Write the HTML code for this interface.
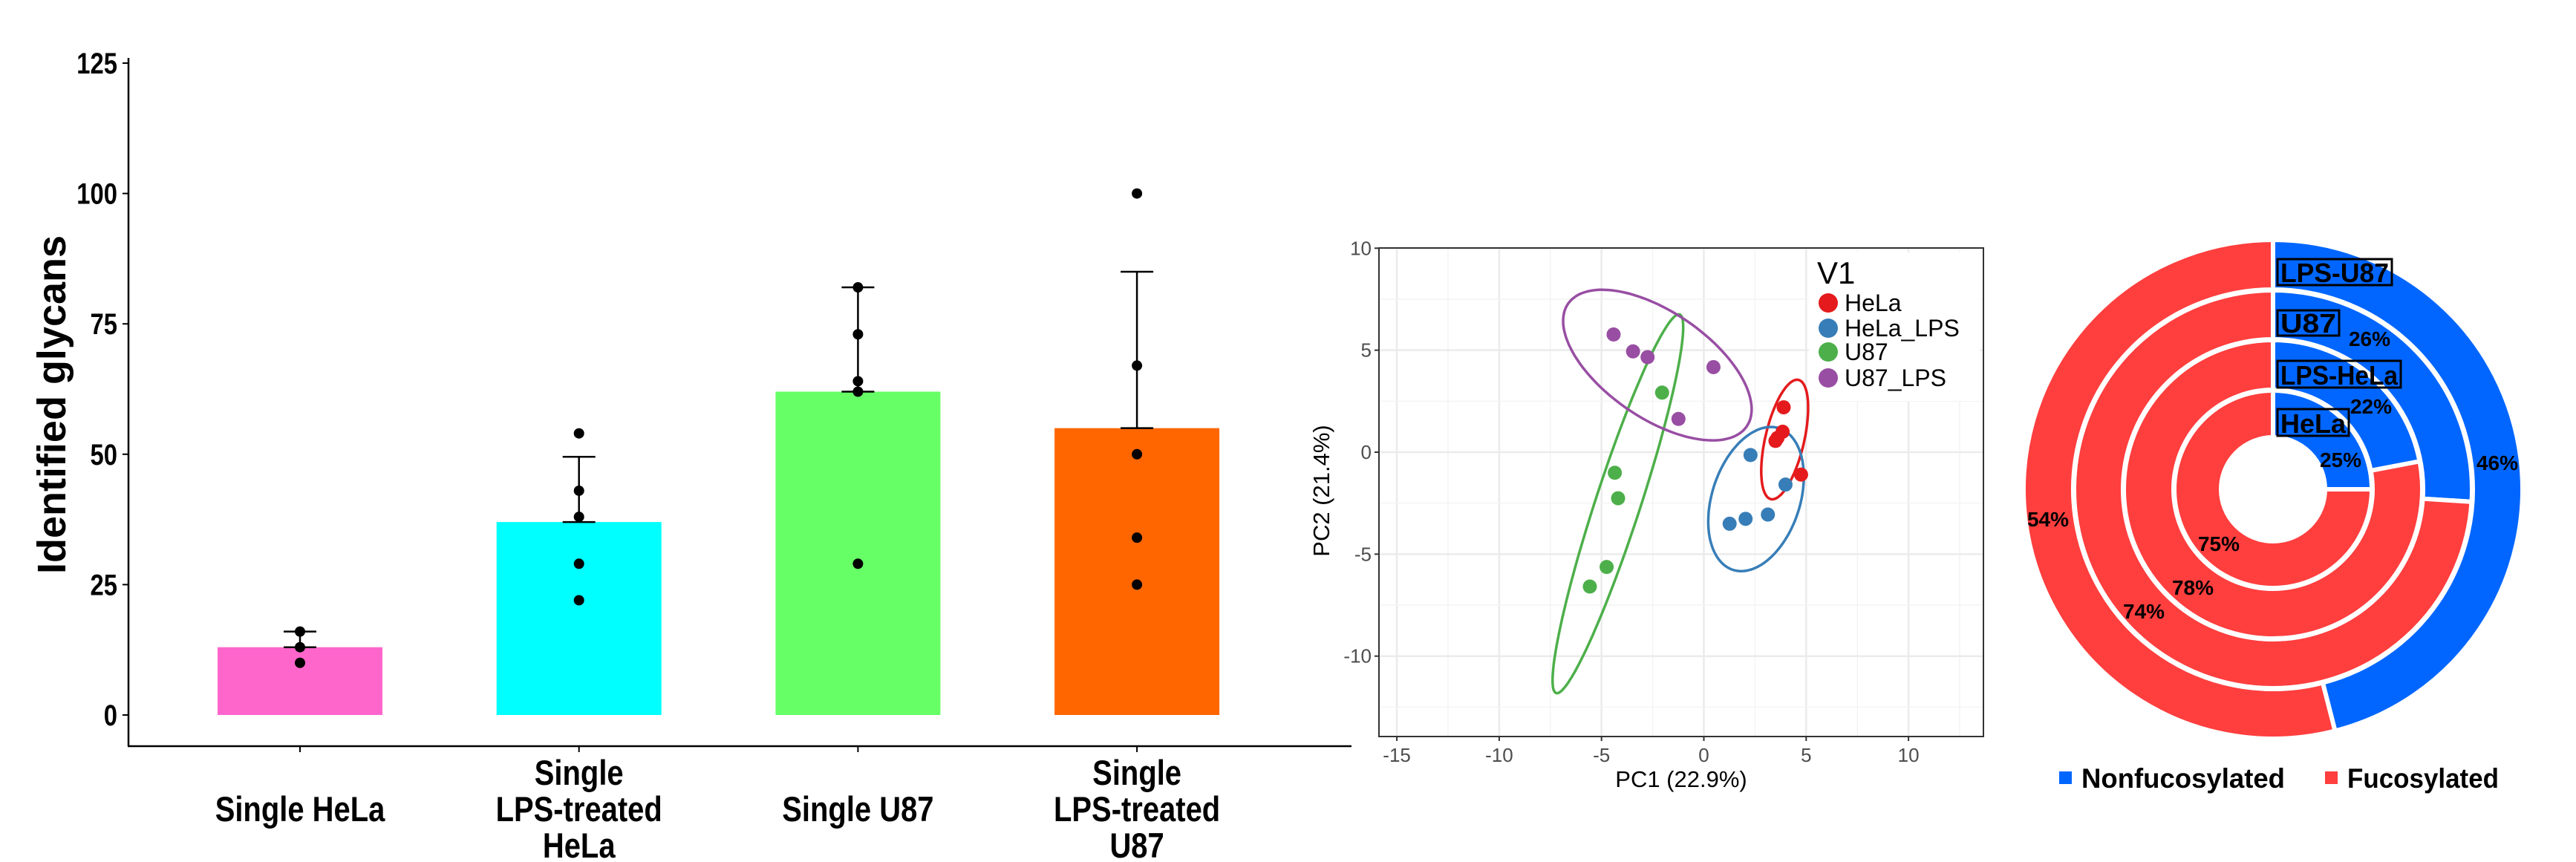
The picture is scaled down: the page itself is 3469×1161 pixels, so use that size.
<!DOCTYPE html>
<html><head><meta charset="utf-8"><style>
html,body{margin:0;padding:0;background:#fff}
svg{display:block}
.bt{font-family:"Liberation Sans Narrow","Liberation Sans",sans-serif;font-weight:bold}
.pc{font-family:"Liberation Sans","DejaVu Sans",sans-serif}
.dn{font-family:"Liberation Sans","DejaVu Sans",sans-serif;font-weight:bold}
</style></head><body>
<svg id="s" width="3469" height="1161" viewBox="0 0 3469 1161" xmlns="http://www.w3.org/2000/svg">
<rect width="3469" height="1161" fill="#fff"/>
<g id="bar"></g>
<g id="pca"></g>
<g id="donut"></g>
</svg>
<script>
const NS="http://www.w3.org/2000/svg";
function mk(p,t,a,txt){const e=document.createElementNS(NS,t);for(const k in a)e.setAttribute(k,a[k]);if(txt!==undefined)e.textContent=txt;p.appendChild(e);return e;}

// ===== Bar chart data =====
const barCategories=[["Single HeLa"],["Single","LPS-treated","HeLa"],["Single U87"],["Single","LPS-treated","U87"]];
const barMeans=[13,37,62,55];
const barErrTop=[16,49.5,82,85];
const barPoints=[[16,13,10],[54,43,38,29,22],[82,73,64,62,29],[100,67,50,34,25]];
const barColors=["#FF66CC","#00FFFF","#66FF66","#FF6600"];
const barYTicks=[0,25,50,75,100,125];

(function(){
const g=document.getElementById('bar');
const y=v=>963-v*(878/125);
const x=i=>404+i*375.7;
const bw=222;
let e=mk(g,'line',{x1:173,y1:78,x2:173,y2:1005,stroke:'#000','stroke-width':2.5});

e=mk(g,'line',{x1:172,y1:1005,x2:1820,y2:1005,stroke:'#000','stroke-width':2.5});

barYTicks.forEach(t=>{
 mk(g,'line',{x1:165,x2:173,y1:y(t),y2:y(t),stroke:'#000','stroke-width':2});
 const l=mk(g,'text',{x:0,y:0,transform:`translate(158,${y(t)+14}) scale(0.82,1)`,'text-anchor':'end','font-size':40,class:'bt'},t);
 
});
const yt=mk(g,'text',{x:0,y:0,transform:'translate(88,545) rotate(-90)','text-anchor':'middle','font-size':54,class:'bt',style:'font-family:"Liberation Sans",sans-serif'},'Identified glycans');

barMeans.forEach((m,i)=>{
 const cx=x(i);
 const r=mk(g,'rect',{x:cx-bw/2,y:y(m),width:bw,height:y(0)-y(m),fill:barColors[i]});
 
 mk(g,'line',{x1:cx,x2:cx,y1:y(m),y2:y(barErrTop[i]),stroke:'#000','stroke-width':2.5});
 mk(g,'line',{x1:cx-22,x2:cx+22,y1:y(barErrTop[i]),y2:y(barErrTop[i]),stroke:'#000','stroke-width':2.5});
 mk(g,'line',{x1:cx-22,x2:cx+22,y1:y(m),y2:y(m),stroke:'#000','stroke-width':2.5});
 barPoints[i].forEach(p=>{const c=mk(g,'circle',{cx:cx,cy:y(p),r:7,fill:'#000'});
  });
 mk(g,'line',{x1:cx,x2:cx,y1:1005,y2:1013,stroke:'#000','stroke-width':2});
 const lines=barCategories[i];
 const ys=lines.length===1?[1106]:[1057,1106,1155];
 lines.forEach((t,j)=>{const l=mk(g,'text',{x:0,y:0,transform:`translate(${cx},${ys[j]}) scale(0.85,1)`,'text-anchor':'middle','font-size':47,class:'bt'},t);
  });
});
})();

// ===== PCA data =====
const pcaGroups=["HeLa","HeLa_LPS","U87","U87_LPS"];
const pcaColors=["#E41A1C","#377EB8","#4DAF4A","#984EA3"];
const pcaX=[[3.9,3.85,3.5,3.6,4.75],[2.28,3.99,3.13,2.04,1.26],[-2.04,-4.35,-4.19,-4.75,-5.57],[-4.41,-3.46,-2.75,0.47,-1.24]];
const pcaY=[[2.2,1.0,0.55,0.7,-1.1],[-0.14,-1.59,-3.06,-3.27,-3.51],[2.92,-1.01,-2.26,-5.63,-6.59],[5.77,4.94,4.66,4.17,1.63]];
// ellipse: center x, center y, semi-major, semi-minor, angle (deg)
const ellCx=[3.95,2.55,-4.2,-2.27];
const ellCy=[0.62,-2.3,-2.53,4.27];
const ellA=[3.0,3.65,9.76,5.3];
const ellB=[0.95,2.15,1.1,2.6];
const ellAng=[77,72,72,-34.6];
const pcaXTicks=[-15,-10,-5,0,5,10];
const pcaYTicks=[-10,-5,0,5,10];

(function(){
const g=document.getElementById('pca');
const X=v=>2294.5+v*27.56, Y=v=>609-v*27.47;
const L=1857,R=2671,T=334,B=992;
mk(g,'rect',{x:L,y:T,width:R-L,height:B-T,fill:'#fff'});
for(let v=-15;v<=12.5;v+=2.5){const major=v%5===0;mk(g,'line',{x1:X(v),x2:X(v),y1:T,y2:B,stroke:major?'#ebebeb':'#f4f4f4','stroke-width':major?2.5:1.5});}
for(let v=-12.5;v<=10;v+=2.5){const major=v%5===0;mk(g,'line',{x1:L,x2:R,y1:Y(v),y2:Y(v),stroke:major?'#ebebeb':'#f4f4f4','stroke-width':major?2.5:1.5});}
mk(g,'rect',{x:2436,y:340,width:230,height:200,fill:'#fff'});
ellCx.forEach((cx,i)=>{
 const a=ellAng[i]*Math.PI/180;let d='';
 for(let k=0;k<=120;k++){const t=k/120*2*Math.PI;const ex=ellA[i]*Math.cos(t),ey=ellB[i]*Math.sin(t);
  const px=cx+ex*Math.cos(a)-ey*Math.sin(a),py=ellCy[i]+ex*Math.sin(a)+ey*Math.cos(a);
  d+=(k?'L':'M')+X(px).toFixed(1)+','+Y(py).toFixed(1);}
 const p=mk(g,'path',{d:d+'Z',fill:'none',stroke:pcaColors[i],'stroke-width':3.5});
 
});
pcaX.forEach((xs,i)=>xs.forEach((v,j)=>{const c=mk(g,'circle',{cx:X(v),cy:Y(pcaY[i][j]),r:9.5,fill:pcaColors[i]});
 }));
const fr=mk(g,'rect',{x:L,y:T,width:R-L,height:B-T,fill:'none',stroke:'#333','stroke-width':2});

pcaXTicks.forEach(t=>{mk(g,'line',{x1:X(t),x2:X(t),y1:B,y2:B+6,stroke:'#333','stroke-width':2});
 const l=mk(g,'text',{x:X(t),y:B+34,'text-anchor':'middle','font-size':26,fill:'#4d4d4d',class:'pc'},t);
 });
pcaYTicks.forEach(t=>{mk(g,'line',{x1:L-6,x2:L,y1:Y(t),y2:Y(t),stroke:'#333','stroke-width':2});
 const l=mk(g,'text',{x:L-10,y:Y(t)+9,'text-anchor':'end','font-size':26,fill:'#4d4d4d',class:'pc'},t);
 });
let t=mk(g,'text',{x:2264,y:1060,'text-anchor':'middle','font-size':31,class:'pc'},'PC1 (22.9%)');

t=mk(g,'text',{x:0,y:0,transform:'translate(1790,661) rotate(-90)','text-anchor':'middle','font-size':31,class:'pc'},'PC2 (21.4%)');

t=mk(g,'text',{x:2447,y:382,'font-size':42,class:'pc'},'V1');

const ly=[408,442,474,509];
pcaGroups.forEach((n,i)=>{const c=mk(g,'circle',{cx:2462,cy:ly[i],r:13,fill:pcaColors[i]});
 
 const l=mk(g,'text',{x:2484,y:ly[i]+11,'font-size':32,class:'pc'},n);
 });
})();

// ===== Donut data =====
const ringNames=["HeLa","LPS-HeLa","U87","LPS-U87"];
const ringNonfuc=[25,22,26,46];
const ringFuc=[75,78,74,54];
const donutSeries=["Nonfucosylated","Fucosylated"];

(function(){
const g=document.getElementById('donut');
const cx=3061,cy=659;
const radii=[[70,133],[134,201],[202,268],[269,336]];
const pt=(r,f)=>[cx+r*Math.sin(f*2*Math.PI),cy-r*Math.cos(f*2*Math.PI)];
function arc(r0,r1,f0,f1,fill){
 const big=(f1-f0)>0.5?1:0;const a=pt(r1,f0),b=pt(r1,f1),c=pt(r0,f1),d=pt(r0,f0);
 return mk(g,'path',{d:`M${a}A${r1},${r1} 0 ${big} 1 ${b}L${c}A${r0},${r0} 0 ${big} 0 ${d}Z`,fill:fill,stroke:'#fff','stroke-width':6});
}
ringNames.forEach((n,i)=>{
 const f=ringNonfuc[i]/(ringNonfuc[i]+ringFuc[i]);
 let p=arc(radii[i][0],radii[i][1],0,f,'#0066FF');
 
 p=arc(radii[i][0],radii[i][1],f,0.99999,'#FF3E3E');
 
});
mk(g,'line',{x1:cx,y1:cy-340,x2:cx,y2:cy-68,stroke:'#fff','stroke-width':6});
const nfPos=[[3152,619],[3193,547],[3191,456],[3363,623]];
const fPos=[[2988,732],[2953,791],[2887,823],[2758,699]];
ringNames.forEach((n,i)=>{
 let l=mk(g,'text',{x:nfPos[i][0],y:nfPos[i][1]+10,'text-anchor':'middle','font-size':28,class:'dn'},ringNonfuc[i]+'%');
 
 l=mk(g,'text',{x:fPos[i][0],y:fPos[i][1]+10,'text-anchor':'middle','font-size':28,class:'dn'},ringFuc[i]+'%');
 
});
const boxY=[[551,587],[486,522],[418,452],[349,384]];
const boxW=[96,166,83,154];
ringNames.forEach((n,i)=>{
 const b=mk(g,'rect',{x:3067,y:boxY[i][0],width:boxW[i],height:boxY[i][1]-boxY[i][0],fill:'none',stroke:'#000','stroke-width':3});
 
 const l=mk(g,'text',{x:3071,y:boxY[i][1]-4,'font-size':36,class:'dn',textLength:boxW[i]-8,lengthAdjust:'spacingAndGlyphs'},n);
 
});
const lx=[2773,3131],lc=['#0066FF','#FF3E3E'],lw=[274,204];
donutSeries.forEach((n,i)=>{
 const r=mk(g,'rect',{x:lx[i],y:1039,width:17,height:17,fill:lc[i]});
 
 const l=mk(g,'text',{x:lx[i]+30,y:1061,'font-size':37,class:'dn',textLength:lw[i],lengthAdjust:'spacingAndGlyphs'},n);
 
});
})();
</script>
</body></html>
